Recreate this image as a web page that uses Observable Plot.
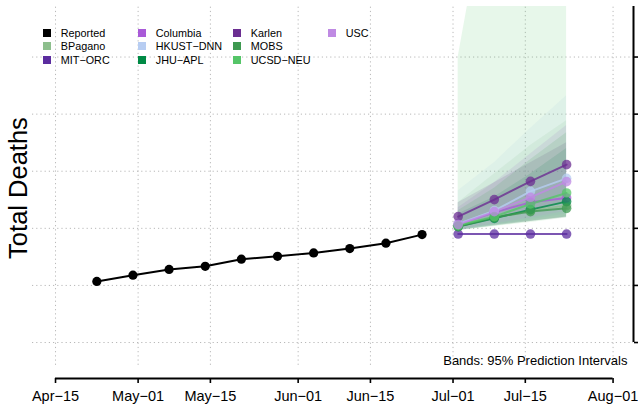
<!DOCTYPE html>
<html>
<head>
<meta charset="utf-8">
<script src="https://cdn.jsdelivr.net/npm/d3@7"></script>
<script src="https://cdn.jsdelivr.net/npm/@observablehq/plot@0.6"></script>
<style>
  html, body { margin: 0; padding: 0; background: #fff; }
  #wrap { position: relative; width: 638px; height: 410px; font-family: "Liberation Sans", Arial, Helvetica, sans-serif; }
  #wrap svg { position: absolute; left: 0; top: 0; }
  .ylab { position: absolute; left: 17.5px; top: 187.5px; transform: translate(-50%, -50%) rotate(-90deg); font-size: 25.5px; white-space: nowrap; color: #000; }
  .lg-sq { position: absolute; width: 8px; height: 8px; }
  .lg-tx { position: absolute; font-size: 10.8px; line-height: 1; transform: translateY(-50%); white-space: nowrap; color: #000; }
</style>
</head>
<body>
<div id="wrap"></div>
<script>
// ---- Data (y units arbitrary: axis labels are off-canvas) ----
const reportedDates  = ["2020-04-23","2020-04-30","2020-05-07","2020-05-14","2020-05-21","2020-05-28","2020-06-04","2020-06-11","2020-06-18","2020-06-25"];
const reportedValues = [1070, 1180, 1280, 1335, 1460, 1510, 1570, 1645, 1740, 1890];

const forecastDates = ["2020-07-02","2020-07-09","2020-07-16","2020-07-23"];

const models      = ["BPagano","MIT-ORC","Columbia","HKUST-DNN","JHU-APL","Karlen","MOBS","UCSD-NEU","USC"];
const modelColors = ["#8dbf8d","#5b2c9f","#a95ad8","#b7cdf2","#008a45","#6b2e91","#3e9950","#55c568","#bf8ae3"];

// point forecasts
const pointBPagano  = [2048, 2190, 2310, 2398];
const pointMITORC   = [1900, 1900, 1900, 1900];
const pointColumbia = [2077, 2280, 2455, 2532];
const pointHKUST    = [2077, 2310, 2648, 2875];
const pointJHU      = [2030, 2175, 2328, 2468];
const pointKarlen   = [2205, 2503, 2823, 3115];
const pointMOBS     = [2030, 2193, 2293, 2350];
const pointUCSD     = [2048, 2205, 2427, 2620];
const pointUSC      = [2065, 2293, 2543, 2818];

// 95% prediction interval bounds
const lowBPagano  = [1960, 2040, 2120, 2190];
const highBPagano = [2450, 2950, 3450, 3885];
const lowMITORC   = [1900, 1900, 1900, 1900];
const highMITORC  = [1900, 1900, 1900, 1900];
const lowColumbia = [1960, 2050, 2120, 2190];
const highColumbia= [2360, 2800, 3300, 3800];
const lowHKUST    = [1960, 2050, 2150, 2250];
const highHKUST   = [2660, 3150, 3750, 4320];
const lowJHU      = [1960, 2040, 2120, 2200];
const highJHU     = [2250, 2550, 2950, 3400];
const lowKarlen   = [2000, 2150, 2300, 2450];
const highKarlen  = [2450, 2800, 3150, 3500];
const lowMOBS     = [1980, 2060, 2130, 2200];
const highMOBS    = [2310, 2700, 3200, 3675];
const lowUCSD     = [1960, 2030, 2100, 2180];
const highUCSD    = [5000, 8500, 12000, 15000];
const lowUSC      = [1970, 2080, 2180, 2300];
const highUSC     = [2250, 2500, 2800, 3150];

const xTickDates = ["2020-04-15","2020-05-01","2020-05-15","2020-06-01","2020-06-15","2020-07-01","2020-07-15","2020-08-01"];
const yTicks = [0, 1000, 2000, 3000, 4000, 5000];

const legendLabels = ["Reported","BPagano","MIT-ORC","Columbia","HKUST-DNN","JHU-APL","Karlen","MOBS","UCSD-NEU","USC"];
const legendColors = ["#000000","#8dbf8d","#5b2c9f","#a95ad8","#b7cdf2","#008a45","#6b2e91","#3e9950","#55c568","#bf8ae3"];
const captionText = "Bands: 95% Prediction Intervals";

// ---- Build tables ----
const parse = d3.utcParse("%Y-%m-%d");
const reported = reportedDates.map((d, i) => ({date: parse(d), value: reportedValues[i]}));
const series = {
  "BPagano":   [pointBPagano,  lowBPagano,  highBPagano],
  "MIT-ORC":   [pointMITORC,   lowMITORC,   highMITORC],
  "Columbia":  [pointColumbia, lowColumbia, highColumbia],
  "HKUST-DNN": [pointHKUST,    lowHKUST,    highHKUST],
  "JHU-APL":   [pointJHU,      lowJHU,      highJHU],
  "Karlen":    [pointKarlen,   lowKarlen,   highKarlen],
  "MOBS":      [pointMOBS,     lowMOBS,     highMOBS],
  "UCSD-NEU":  [pointUCSD,     lowUCSD,     highUCSD],
  "USC":       [pointUSC,      lowUSC,      highUSC]
};
const forecast = [];
for (const m of models) {
  const [p, lo, hi] = series[m];
  forecastDates.forEach((d, i) => forecast.push({model: m, date: parse(d), value: p[i], lo: lo[i], hi: hi[i]}));
}
const bandModels = models.filter(m => m !== "MIT-ORC");
const bands = forecast.filter(d => bandModels.includes(d.model));
const xTicks = xTickDates.map(parse);

const xDomain = [new Date(Date.UTC(2020, 3, 10, 13)), new Date(Date.UTC(2020, 7, 4, 23))];
const yDomain = [-630, 5885];
const grid = {stroke: "#b8b8b8", strokeDasharray: "1.2,3", strokeWidth: 1};
const fmt = d => d3.utcFormat("%b")(d) + "\u2212" + d3.utcFormat("%d")(d);

const chart = Plot.plot({
  width: 638,
  height: 410,
  marginLeft: 32,
  marginRight: 5,
  marginTop: 6,
  marginBottom: 32,
  style: {fontFamily: '"Liberation Sans", Arial, Helvetica, sans-serif', fontSize: "14.5px", color: "#000", background: "#fff"},
  x: {type: "utc", domain: xDomain},
  y: {domain: yDomain},
  color: {domain: models, range: modelColors},
  marks: [
    // grid
    Plot.ruleY(yTicks, {...grid}),
    Plot.ruleX(xTicks, {y1: -400, y2: yDomain[1], ...grid}),
    // prediction bands
    Plot.areaY(bands, {x: "date", y1: "lo", y2: "hi", z: "model", fill: "model", fillOpacity: 0.14, clip: true}),
    // model forecasts
    Plot.line(forecast, {x: "date", y: "value", z: "model", stroke: "model", strokeWidth: 2, strokeOpacity: 0.8}),
    Plot.dot(forecast, {x: "date", y: "value", fill: "model", r: 4.8, fillOpacity: 0.75}),
    // reported
    Plot.line(reported, {x: "date", y: "value", stroke: "#000", strokeWidth: 2}),
    Plot.dot(reported, {x: "date", y: "value", fill: "#000", r: 4.6}),
    // axes
    Plot.ruleY([yDomain[0]], {x1: xTicks[0], x2: xTicks[xTicks.length - 1], stroke: "#000", strokeWidth: 2}),
    Plot.axisX({ticks: xTicks, tickFormat: fmt, tickSize: 5, tickPadding: 7, strokeWidth: 1.6, fontSize: 14.5, label: null}),
    Plot.ruleX([xDomain[1]], {y1: yTicks[0], y2: yDomain[1], stroke: "#000", strokeWidth: 2}),
    Plot.axisY({anchor: "right", ticks: yTicks, tickSize: 6, tickFormat: () => "", strokeWidth: 1.6, label: null}),
    // caption
    Plot.text([captionText], {frameAnchor: "bottom-right", dx: -6, dy: -18, textAnchor: "end", lineAnchor: "middle", fontSize: 13, fill: "#000"})
  ]
});

const wrap = document.getElementById("wrap");
wrap.appendChild(chart);

const ylab = document.createElement("div");
ylab.className = "ylab";
ylab.textContent = "Total Deaths";
wrap.appendChild(ylab);

legendLabels.forEach((lab, i) => {
  const col = Math.floor(i / 3), row = i % 3;
  const cy = 32.5 + row * 13.5;
  const sq = document.createElement("div");
  sq.className = "lg-sq";
  sq.style.left = (43 + col * 95) + "px";
  sq.style.top = (cy - 4) + "px";
  sq.style.background = legendColors[i];
  wrap.appendChild(sq);
  const tx = document.createElement("div");
  tx.className = "lg-tx";
  tx.style.left = (60.8 + col * 95) + "px";
  tx.style.top = cy + "px";
  tx.textContent = lab.replace("-", "\u2212");
  wrap.appendChild(tx);
});
</script>
</body>
</html>
